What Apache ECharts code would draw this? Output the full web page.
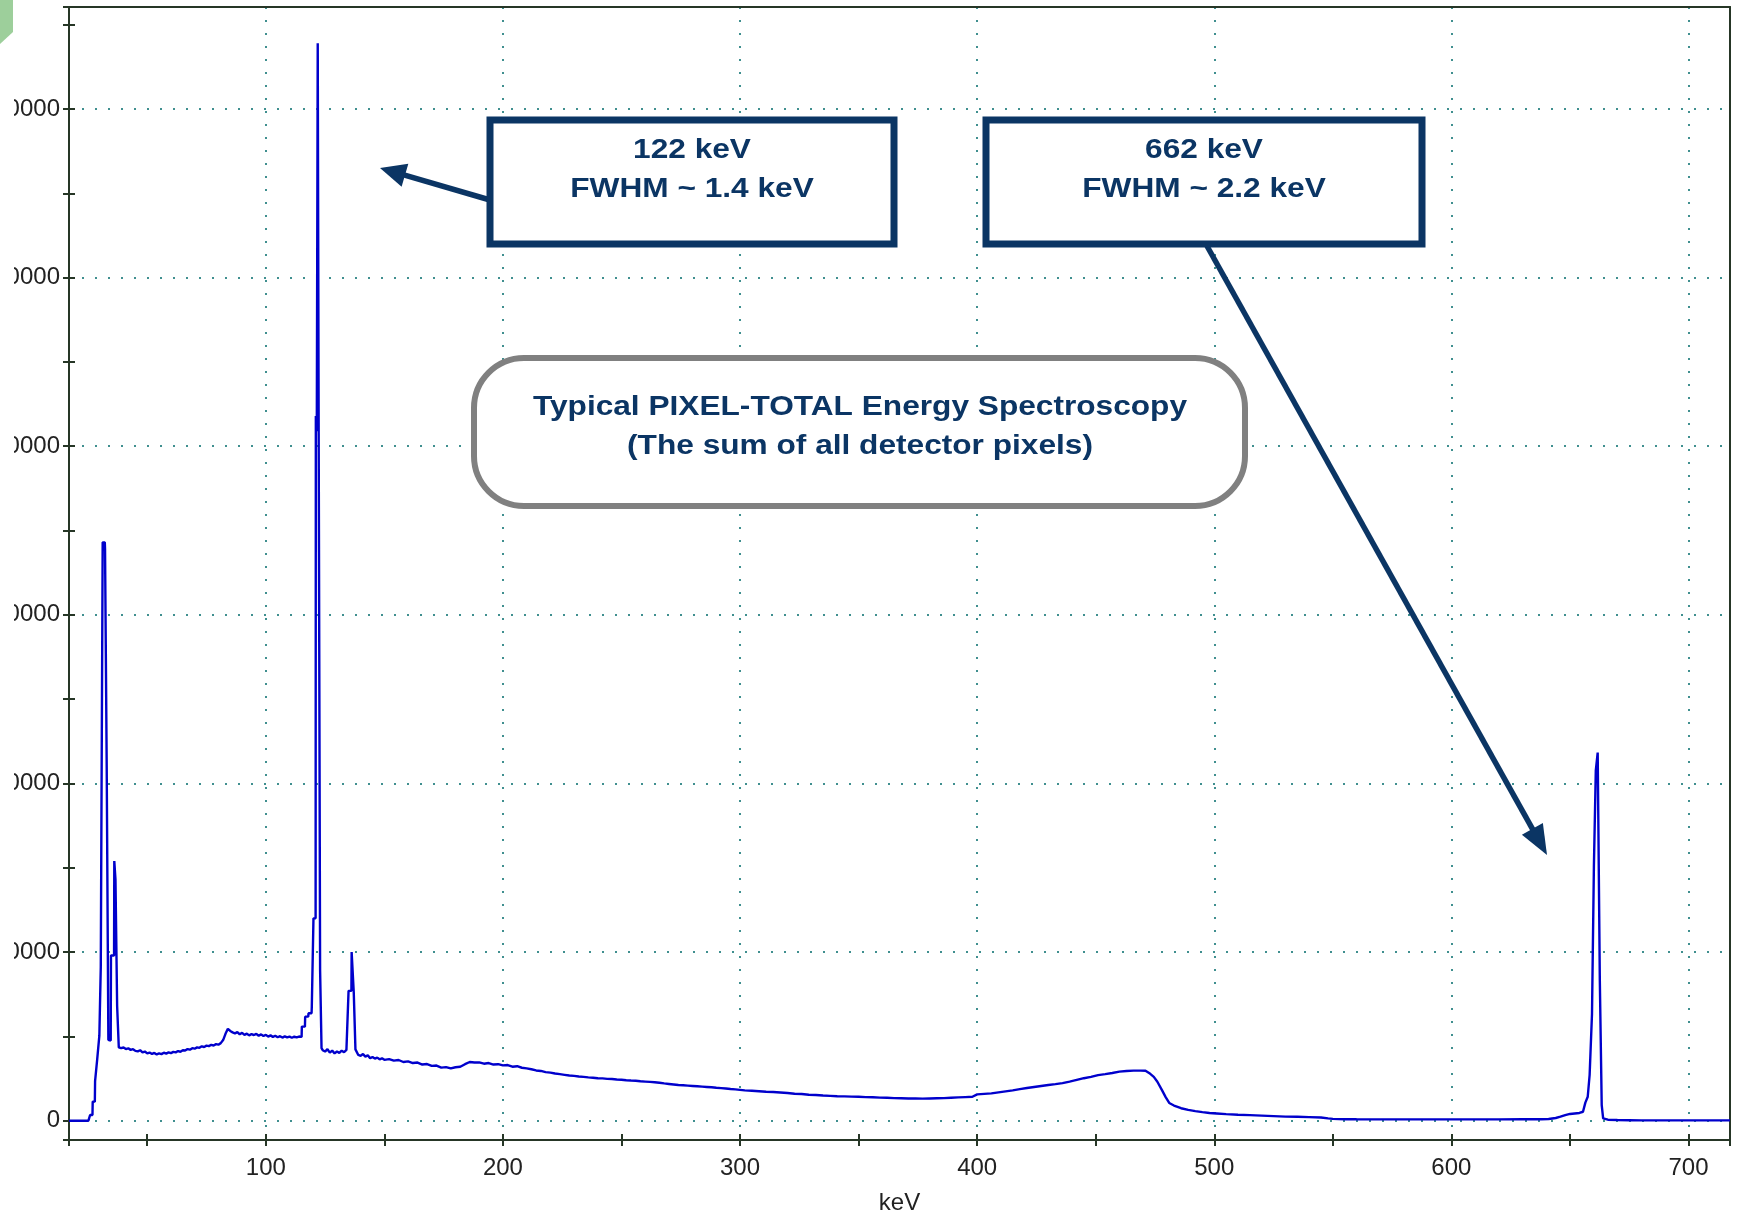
<!DOCTYPE html>
<html>
<head>
<meta charset="utf-8">
<script src="https://cdn.jsdelivr.net/npm/echarts@6/dist/echarts.min.js"></script>
<style>
html,body{margin:0;padding:0;background:#ffffff;}
#chart{width:1737px;height:1216px;}
</style>
</head>
<body>
<div id="chart"></div>
<script>
// ---- data: [energy keV, counts] ----
const xrayPeaks = [
  [17,0],[25.2,0],[25.9,340],[26.9,340],[27.0,1130],[27.9,1130],[28.0,2350],[28.8,2350],[28.9,3650],[29.7,3650],
  [29.8,5040],[30.3,5040],[30.4,9100],[31.1,9100],[31.2,34300],[32.1,34300],[32.2,33900],[32.8,33900],[32.9,21000],[33.5,21000],
  [33.6,4800],[34.6,4750],[34.7,9800],[36.0,9800],[36.1,15400],[36.5,15400],[36.6,14300],[37.2,14300],[37.3,6800],[37.9,6800],
  [38.0,4350]
];
const lowContinuum = [
  [39,4300],[40,4340],[41,4250],[42,4290],[43,4200],[44,4240],[45,4140],[46,4110],[47,4180],[48,4050],
  [49,4100],[50,3990],[51,4040],[52,3960],[53,4020],[54,3930],[55,3990],[56,3950],[57,4030],[58,3980],
  [59,4050],[60,4010],[61,4080],[62,4050],[63,4130],[64,4090],[65,4180],[66,4160],[67,4250],[68,4210],
  [69,4300],[70,4270],[71,4350],[72,4320],[73,4410],[74,4370],[75,4450],[76,4420],[77,4500],[78,4460],
  [79,4540],[80,4510],[81,4600],[82,4780],[83,5150],[84,5450],[85,5320],[86,5240],[87,5180],[88,5250],
  [89,5120],[90,5210],[91,5090],[92,5160],[93,5060],[94,5140],[95,5080],[96,5150],[97,5040],[98,5120],
  [99,5020],[100,5090],[101,4990],[102,5060],[103,4970],[104,5040],[105,4950],[106,5010],[107,4930],[108,5000],
  [109,4940],[110,4990],[111,4920],[112,4980],[113,4940],[114,4990],[115.1,4970]
];
const peak122 = [
  [115.2,5580],[116.5,5580],[116.6,6170],[117.9,6170],[118.0,6370],[119.3,6370],[119.4,6760],[120.0,6760],[120.1,12000],[121.0,12000],
  [121.1,41800],[121.4,41800],[121.5,40900],[121.8,40900],[121.9,63900],[122.2,63900],[122.3,40700],[122.8,40700],[122.9,8900],[123.4,8900],
  [123.5,4300],[124,4180],[125,4100],[126,4240],[127,4040],[128,4160],[129,3990],[130,4100],[131,4020],[132,4150],
  [133,4060],[134,4200],[134.8,4300],[134.9,7700],[136.1,7700],[136.2,10000],[137.0,10000],[137.1,7580],[137.7,7580],[137.8,4230]
];
const midContinuum = [
  [139,3900],[140,3850],[141,3950],[142,3800],[143,3880],[144,3700],[145,3780],[146,3680],[147,3740],[148,3640],
  [149,3700],[150,3610],[152,3650],[154,3560],[156,3600],[158,3480],[160,3520],[162,3420],[164,3450],[166,3330],
  [168,3360],[170,3250],[172,3270],[174,3150],[176,3180],[178,3100],[180,3170],[182,3200],[184,3350],[186,3480],
  [188,3450],[190,3460],[192,3380],[194,3420],[196,3330],[198,3350],[200,3280],[202,3300],[204,3200],[206,3230],
  [208,3140],[210,3100],[212,3050],[214,2980],[216,2950],[218,2880],[220,2850],[222,2800],[224,2760],[226,2720],
  [228,2680],[230,2660],[232,2620],[234,2600],[236,2570],[238,2550],[240,2520],[242,2510],[244,2480],[246,2470],
  [248,2440],[250,2430],[252,2400],[254,2380],[256,2370],[258,2340],[260,2320],[262,2300],[264,2280],[266,2250],
  [268,2210],[270,2180],[272,2150],[274,2120],[276,2100],[278,2080],[280,2060],[282,2040],[284,2020],[286,2000],
  [288,1980],[290,1950],[292,1930],[294,1910],[296,1880],[298,1860],[300,1830],[302,1800],[305,1780],[308,1750],
  [311,1720],[314,1700],[317,1670],[320,1640],[323,1600],[326,1580],[329,1540],[332,1520],[335,1490],[338,1470],
  [341,1450],[344,1440],[347,1430],[350,1420],[353,1400],[356,1390],[359,1370],[362,1360],[365,1340],[368,1330],
  [371,1320],[374,1320],[377,1310],[380,1320],[383,1330],[386,1340],[389,1360],[392,1380],[395,1400],[398,1420]
];
const comptonEdge = [
  [400,1560],[403,1590],[406,1620],[409,1680],[412,1740],[415,1800],[418,1870],[421,1940],[424,2000],[427,2060],
  [430,2120],[433,2170],[436,2230],[439,2320],[442,2420],[445,2520],[448,2600],[451,2700],[454,2760],[457,2830],
  [460,2910],[463,2950],[466,2970],[469,2970],[471,2960],[473,2780],[474.5,2600],[476,2310],[478,1800],[479.5,1400],
  [481,1050],[483,900],[486,740],[489,640],[492,570],[495,510],[498,460],[501,430],[505,390],[510,350],
  [515,330],[520,300],[525,270],[530,240],[535,230],[540,210],[545,190],[548,140],[550,110],[555,90],
  [560,85],[570,80],[580,80],[590,80],[600,80],[610,80],[620,80],[630,85],[638,90],[641,100]
];
const peak662 = [
  [644,160],[646,240],[648,330],[650,400],[652,430],[654,460],[655.5,530],[656.5,1070],[657.5,1420],[658.3,2710],
  [659.3,6330],[660.1,15060],[660.9,20760],[661.6,20760],[661.7,21830],[662.5,21830],[662.6,8340],[663.3,8340],[663.4,930],[663.9,930],
  [664,140],[666,60],[670,40],[675,30],[680,20],[690,20],[700,20],[717.5,20]
];
const spectrum = [].concat(xrayPeaks, lowContinuum, peak122, midContinuum, comptonEdge, peak662);

const xRange = [17, 717.5];       // keV
const yRange = [-1145, 66050];    // counts

// ---- styles ----
const axisColor = '#263626';
const labelColor = '#222222';
const dotLine = { color: '#3f8f8f', width: 2, type: [2, 11] };
const navy = '#0b3564';
const fontFam = '"Liberation Sans", Arial, sans-serif';

function arrow(x1, y1, x2, y2, lw, hl, hw, color, z) {
  const dx = x2 - x1, dy = y2 - y1, L = Math.hypot(dx, dy);
  const ux = dx / L, uy = dy / L, nx = -uy, ny = ux;
  const bx = x2 - ux * hl, by = y2 - uy * hl;
  return [
    { type: 'line', z: z, shape: { x1: x1, y1: y1, x2: bx + ux * 3, y2: by + uy * 3 },
      style: { stroke: color, lineWidth: lw } },
    { type: 'polygon', z: z, shape: { points: [[x2, y2], [bx + nx * hw / 2, by + ny * hw / 2], [bx - nx * hw / 2, by - ny * hw / 2]] },
      style: { fill: color } }
  ];
}

const chart = echarts.init(document.getElementById('chart'), null, { renderer: 'canvas' });

const baseX = { type: 'value', min: xRange[0], max: xRange[1], splitNumber: 7 };
const baseY = { type: 'value', min: yRange[0], max: yRange[1], splitNumber: 7 };

chart.setOption({
  animation: false,
  backgroundColor: '#ffffff',
  grid: { left: 69, right: 7, top: 7, bottom: 76, containLabel: false, outerBoundsMode: 'none' },
  xAxis: [
    Object.assign({}, baseX, {
      position: 'bottom',
      axisLine: { show: true, onZero: false, lineStyle: { color: axisColor, width: 2 } },
      axisTick: { show: true, inside: false, length: 6, lineStyle: { color: axisColor, width: 2 } },
      minorTick: { show: true, splitNumber: 2, length: 6, lineStyle: { color: axisColor, width: 2 } },
      axisLabel: { show: true, showMinLabel: false, showMaxLabel: false, margin: 16, fontSize: 24,
                   fontFamily: fontFam, color: labelColor, formatter: function (v) { return String(v); } },
      splitLine: { show: true, lineStyle: dotLine },
      name: 'keV', nameLocation: 'middle', nameGap: 51,
      nameTextStyle: { fontSize: 24, fontFamily: fontFam, color: labelColor }
    }),
    Object.assign({}, baseX, {
      position: 'bottom',
      axisLine: { show: false, onZero: false },
      axisTick: { show: true, inside: true, length: 6, lineStyle: { color: axisColor, width: 2 } },
      minorTick: { show: true, splitNumber: 2, length: 6, lineStyle: { color: axisColor, width: 2 } },
      axisLabel: { show: false }, splitLine: { show: false }
    }),
    Object.assign({}, baseX, {
      position: 'top',
      axisLine: { show: true, onZero: false, lineStyle: { color: axisColor, width: 2 } },
      axisTick: { show: false }, axisLabel: { show: false }, splitLine: { show: false }
    })
  ],
  yAxis: [
    Object.assign({}, baseY, {
      position: 'left',
      axisLine: { show: true, onZero: false, lineStyle: { color: axisColor, width: 2 } },
      axisTick: { show: true, inside: false, length: 6, lineStyle: { color: axisColor, width: 2 } },
      minorTick: { show: true, splitNumber: 2, length: 6, lineStyle: { color: axisColor, width: 2 } },
      axisLabel: { show: true, showMinLabel: false, showMaxLabel: false, margin: 9, fontSize: 24,
                   fontFamily: fontFam, color: labelColor, formatter: function (v) { return String(v); } },
      splitLine: { show: true, lineStyle: dotLine }
    }),
    Object.assign({}, baseY, {
      position: 'left',
      axisLine: { show: false, onZero: false },
      axisTick: { show: true, inside: true, length: 6, lineStyle: { color: axisColor, width: 2 } },
      minorTick: { show: true, splitNumber: 2, length: 6, lineStyle: { color: axisColor, width: 2 } },
      axisLabel: { show: false }, splitLine: { show: false }
    }),
    Object.assign({}, baseY, {
      position: 'right',
      axisLine: { show: true, onZero: false, lineStyle: { color: axisColor, width: 2 } },
      axisTick: { show: false }, axisLabel: { show: false }, splitLine: { show: false }
    })
  ],
  series: [{
    type: 'line',
    xAxisIndex: 0, yAxisIndex: 0,
    data: spectrum,
    showSymbol: false,
    symbol: 'none',
    lineStyle: { color: '#0000cc', width: 2.4 },
    z: 5
  }],
  graphic: [
    // left margin (cropped slide edge) and green slide corner
    { type: 'rect', z: 100, shape: { x: 0, y: 0, width: 14, height: 1216 }, style: { fill: '#ffffff' } },
    { type: 'polygon', z: 101, shape: { points: [[0, 0], [13, 0], [13, 32], [0, 44]] }, style: { fill: '#9dcf9b' } }
  ].concat(
    arrow(490, 200, 380, 168, 5.5, 26, 24, navy, 40),
    arrow(1207, 246, 1547, 855, 5.5, 30, 24, navy, 40),
    [
      { type: 'rect', z: 50, shape: { x: 490, y: 120, width: 404, height: 124 },
        style: { fill: '#ffffff', stroke: navy, lineWidth: 7 } },
      { type: 'rect', z: 50, shape: { x: 986, y: 120, width: 436, height: 124 },
        style: { fill: '#ffffff', stroke: navy, lineWidth: 7 } },
      { type: 'rect', z: 50, shape: { x: 474, y: 358, width: 771, height: 148, r: 50 },
        style: { fill: '#ffffff', stroke: '#808080', lineWidth: 6 } },
      { type: 'text', z: 60, x: 692, y: 170, scaleX: 1.13,
        style: { text: '122 keV\nFWHM ~ 1.4 keV', fontSize: 28, fontWeight: 'bold', fontFamily: fontFam,
                 fill: navy, align: 'center', verticalAlign: 'middle', lineHeight: 39 } },
      { type: 'text', z: 60, x: 1204, y: 170, scaleX: 1.13,
        style: { text: '662 keV\nFWHM ~ 2.2 keV', fontSize: 28, fontWeight: 'bold', fontFamily: fontFam,
                 fill: navy, align: 'center', verticalAlign: 'middle', lineHeight: 39 } },
      { type: 'text', z: 60, x: 860, y: 427, scaleX: 1.13,
        style: { text: 'Typical PIXEL-TOTAL Energy Spectroscopy\n(The sum of all detector pixels)', fontSize: 28,
                 fontWeight: 'bold', fontFamily: fontFam, fill: navy, align: 'center', verticalAlign: 'middle', lineHeight: 39 } }
    ]
  )
});
</script>
</body>
</html>
